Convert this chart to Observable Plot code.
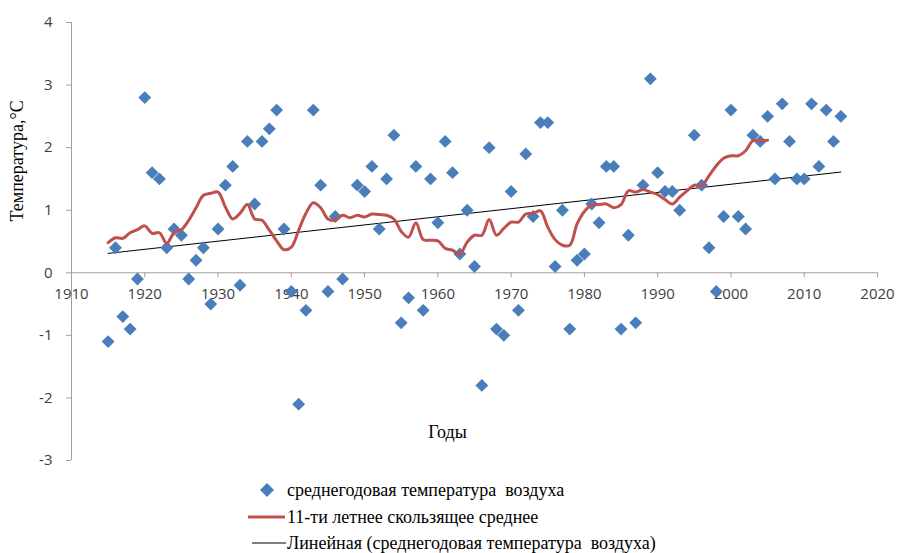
<!DOCTYPE html>
<html>
<head>
<meta charset="utf-8">
<script src="https://cdn.jsdelivr.net/npm/d3@7"></script>
<script src="https://cdn.jsdelivr.net/npm/@observablehq/plot@0.6"></script>
<style>
  body { margin: 0; background: #fff; }
  #wrap { position: relative; width: 899px; height: 553px; overflow: hidden; background: #fff; }
  .leg { position: absolute; font-family: "Liberation Serif", "Times New Roman", serif; font-size: 18px; color: #000; white-space: pre; line-height: 20px; }
  .sw { position: absolute; }
</style>
</head>
<body>
<div id="wrap"></div>
<script>
// Annual mean air temperature (diamonds)
const years = [1915,1916,1917,1918,1919,1920,1921,1922,1923,1924,1925,1926,1927,1928,1929,1930,1931,1932,1933,1934,1935,1936,1937,1938,1939,1940,1941,1942,1943,1944,1945,1946,1947,
  1949,1950,1951,1952,1953,1954,1955,1956,1957,1958,1959,1960,1961,1962,1963,1964,1965,1966,1967,1968,1969,1970,1971,1972,1973,1974,1975,1976,1977,1978,1979,1980,1981,1982,1983,1984,1985,1986,1987,1988,1989,1990,1991,1992,1993,
  1995,1996,1997,1998,1999,2000,2001,2002,2003,2004,2005,2006,2007,2008,2009,2010,2011,2012,2013,2014,2015];
const temps = [-1.1,0.4,-0.7,-0.9,-0.1,2.8,1.6,1.5,0.4,0.7,0.6,-0.1,0.2,0.4,-0.5,0.7,1.4,1.7,-0.2,2.1,1.1,2.1,2.3,2.6,0.7,-0.3,-2.1,-0.6,2.6,1.4,-0.3,0.9,-0.1,
  1.4,1.3,1.7,0.7,1.5,2.2,-0.8,-0.4,1.7,-0.6,1.5,0.8,2.1,1.6,0.3,1.0,0.1,-1.8,2.0,-0.9,-1.0,1.3,-0.6,1.9,0.9,2.4,2.4,0.1,1.0,-0.9,0.2,0.3,1.1,0.8,1.7,1.7,-0.9,0.6,-0.8,1.4,3.1,1.6,1.3,1.3,1.0,
  2.2,1.4,0.4,-0.3,0.9,2.6,0.9,0.7,2.2,2.1,2.5,1.5,2.7,2.1,1.5,1.5,2.7,1.7,2.6,2.1,2.5];

// 11-year moving average (red line)
const maYears = [1915,1916,1917,1918,1919,1920,1921,1922,1923,1924,1925,1926,1927,1928,1929,1930,1931,1932,1933,1934,1935,1936,1937,1938,1939,1940,1941,1942,1943,1944,1945,1946,1947,1948,1949,1950,1951,1952,1953,1954,1955,1956,1957,1958,1959,1960,1961,1962,1963,1964,1965,1966,1967,1968,1969,1970,1971,1972,1973,1974,1975,1976,1977,1978,1979,1980,1981,1982,1983,1984,1985,1986,1987,1988,1989,1990,1991,1992,1993,1994,1995,1996,1997,1998,1999,2000,2001,2002,2003,2004,2005];
const maValues = [0.48,0.56,0.55,0.64,0.69,0.75,0.63,0.64,0.47,0.64,0.69,0.84,1.04,1.24,1.27,1.29,1.05,0.86,0.95,1.09,0.86,0.84,0.68,0.51,0.37,0.41,0.68,0.95,1.12,1.04,0.86,0.84,0.92,0.88,0.92,0.89,0.94,0.93,0.92,0.86,0.66,0.57,0.80,0.53,0.52,0.51,0.39,0.36,0.30,0.49,0.60,0.60,0.85,0.60,0.71,0.81,0.81,0.94,0.95,0.99,0.73,0.53,0.44,0.44,0.78,0.98,1.08,1.09,1.10,1.04,1.09,1.31,1.29,1.33,1.29,1.25,1.17,1.10,1.21,1.31,1.40,1.39,1.55,1.71,1.83,1.87,1.87,1.95,2.11,2.11,2.12];

// Linear trend (black thin line)
const trendYears = [1915, 2015];
const trendValues = [0.31, 1.61];

// Axes
const xTicks = [1910,1920,1930,1940,1950,1960,1970,1980,1990,2000,2010,2020];
const yTicks = [-3,-2,-1,0,1,2,3,4];

const labelY = "Температура,°С";
const labelX = "Годы";
const legendLabels = ["среднегодовая температура  воздуха", "11-ти летнее скользящее среднее", "Линейная (среднегодовая температура  воздуха)"];

const points = years.map((y, i) => ({year: y, t: temps[i]}));
const ma = maYears.map((y, i) => ({year: y, t: maValues[i]}));
const trend = trendYears.map((y, i) => ({year: y, t: trendValues[i]}));

const W = 899, H = 470, mL = 71, mR = 22, mT = 22, mB = 10;
const zeroShift = -((H - mB) - (mT + (H - mT - mB) * 4 / 7)); // move x axis to y = 0

const chart = Plot.plot({
  width: W, height: H,
  marginLeft: mL, marginRight: mR, marginTop: mT, marginBottom: mB,
  style: {fontFamily: "'Open Sans', sans-serif", fontSize: "15px", background: "#fff"},
  x: {domain: [1910, 2020]},
  y: {domain: [-3, 4]},
  marks: [
    Plot.ruleX([1910], {stroke: "#a0a0a0", strokeWidth: 1}),
    Plot.ruleY([0], {stroke: "#a0a0a0", strokeWidth: 1}),
    Plot.axisY({ticks: yTicks, tickSize: 5, tickPadding: 14, stroke: "#a0a0a0", fill: "#404040", fontSize: 15, label: null,
      tickFormat: d => (d < 0 ? "-" + Math.abs(d) : String(d))}),
    Plot.axisX({ticks: xTicks, tickSize: 5, tickPadding: 11, dy: zeroShift, stroke: "#a0a0a0", fill: "#404040", fontSize: 15, label: null,
      tickFormat: d => String(d)}),
    Plot.line(trend, {x: "year", y: "t", stroke: "#000", strokeWidth: 1}),
    Plot.dot(points, {x: "year", y: "t", symbol: "diamond2", r: 5.8, fill: "#4a7ebb", stroke: "none"}),
    Plot.line(ma, {x: "year", y: "t", stroke: "#c0504d", strokeWidth: 3, curve: "catmull-rom"}),
    Plot.text([labelY], {frameAnchor: "left", dx: -54, dy: -20, rotate: -90, text: d => d,
      fontFamily: "'Liberation Serif', serif", fontSize: 18, fill: "#000"}),
    Plot.text([labelX], {frameAnchor: "bottom", dx: -27, dy: -23, text: d => d,
      fontFamily: "'Liberation Serif', serif", fontSize: 18, fill: "#000"})
  ]
});

const wrap = document.getElementById("wrap");
chart.style.display = "block";
wrap.appendChild(chart);

// Legend below the chart
function addText(txt, left, cy) {
  const d = document.createElement("div");
  d.className = "leg";
  d.textContent = txt;
  d.style.left = left + "px";
  d.style.top = (cy - 10) + "px";
  wrap.appendChild(d);
}
function addSwatch(html, left, top, w, h) {
  const s = document.createElementNS("http://www.w3.org/2000/svg", "svg");
  s.setAttribute("width", w); s.setAttribute("height", h);
  s.setAttribute("class", "sw");
  s.style.left = left + "px"; s.style.top = top + "px";
  s.innerHTML = html;
  wrap.appendChild(s);
}
addSwatch('<path d="M7,0 L14,7 L7,14 L0,7 Z" fill="#4a7ebb"/>', 260, 483, 14, 14);
addText(legendLabels[0], 287, 490);
addSwatch('<line x1="0" y1="4" x2="37" y2="4" stroke="#c0504d" stroke-width="3"/>', 248, 513, 37, 8);
addText(legendLabels[1], 287, 517);
addSwatch('<line x1="0" y1="4" x2="34" y2="4" stroke="#000" stroke-width="1"/>', 252, 539, 34, 8);
addText(legendLabels[2], 287, 543);
</script>
</body>
</html>
